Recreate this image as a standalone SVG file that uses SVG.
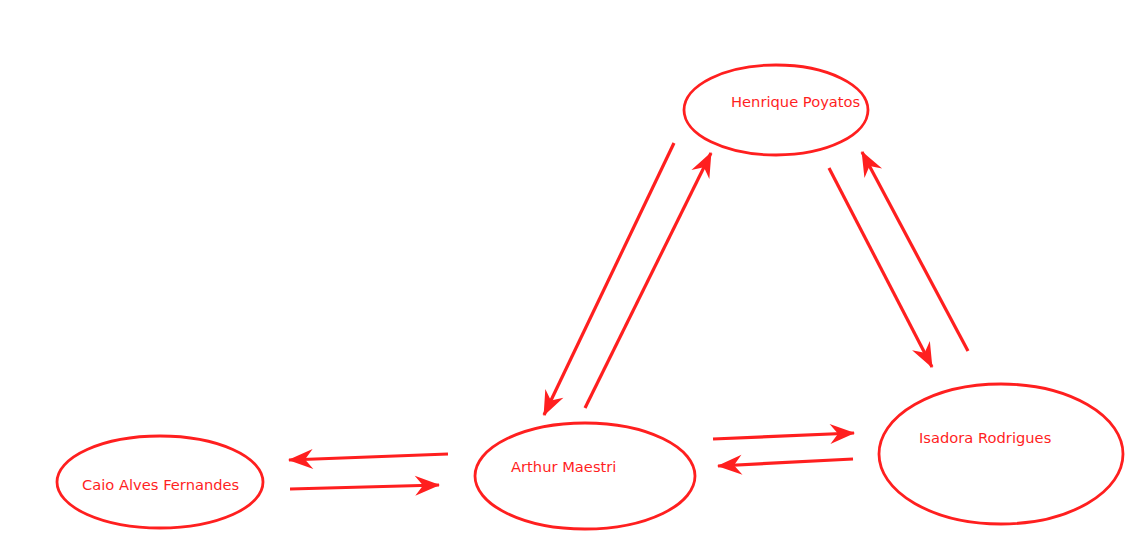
<svg xmlns="http://www.w3.org/2000/svg" width="1148" height="550" viewBox="0 0 1148 550">
<style>
.node{fill:#fff;stroke:#ff1f1f;stroke-width:2.8}
.lbl{font-family:"DejaVu Sans",Verdana,sans-serif;font-size:14.7px;fill:#ff1f1f}
.edge{stroke:#ff1f1f;stroke-width:3.2;fill:none;marker-end:url(#ah)}
</style>
<defs>
<marker id="ah" viewBox="-26 -11 28 22" refX="0" refY="0" markerWidth="28" markerHeight="22" markerUnits="userSpaceOnUse" orient="auto">
<path d="M1,0 L-24,-10 L-16,0 L-24,10 Z" fill="#ff1f1f"/>
</marker>
</defs>
<rect width="1148" height="550" fill="#fff"/>
<g id="henrique"><ellipse class="node" cx="776" cy="110" rx="92" ry="45"/><text class="lbl" x="731" y="107">Henrique Poyatos</text></g>
<g id="arthur"><ellipse class="node" cx="585" cy="476" rx="110" ry="53"/><text class="lbl" x="511" y="472">Arthur Maestri</text></g>
<g id="caio"><ellipse class="node" cx="160" cy="482" rx="103" ry="46"/><text class="lbl" x="82" y="490">Caio Alves Fernandes</text></g>
<g id="isadora"><ellipse class="node" cx="1001" cy="454" rx="122" ry="70"/><text class="lbl" x="919" y="443">Isadora Rodrigues</text></g>
<g id="connectors">
<line class="edge" x1="448" y1="454" x2="289" y2="460"/>
<line class="edge" x1="290" y1="489" x2="439" y2="485"/>
<line class="edge" x1="713" y1="439" x2="854" y2="433"/>
<line class="edge" x1="853" y1="459" x2="718" y2="466"/>
<line class="edge" x1="674" y1="143" x2="544" y2="415"/>
<line class="edge" x1="585" y1="408" x2="711" y2="153"/>
<line class="edge" x1="829" y1="168" x2="932" y2="367"/>
<line class="edge" x1="968" y1="351" x2="862" y2="152"/>
</g>
</svg>
